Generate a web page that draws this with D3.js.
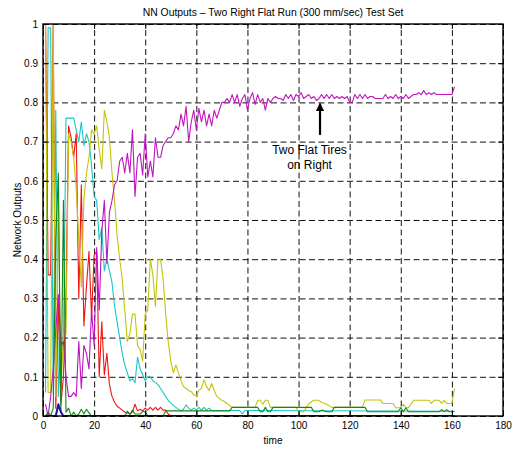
<!DOCTYPE html>
<html>
<head>
<meta charset="utf-8">
<script src="https://cdn.jsdelivr.net/npm/d3@7"></script>
<style>
  body { margin: 0; background: #fff; }
  text { font-family: "Liberation Sans", Arial, sans-serif; fill: #000; }
</style>
</head>
<body>
<svg id="drawing_region"></svg>
<script>
// axis ticks
const xTicks = [0, 20, 40, 60, 80, 100, 120, 140, 160, 180];
const yTicks = [0, 0.1, 0.2, 0.3, 0.4, 0.5, 0.6, 0.7, 0.8, 0.9, 1];

// magenta output, one value per time step (t = 1..161)
const magentaVals = [
    0.03, 0.0, 0.05, 0.12, 0.22, 0.31, 0.18, 0.19, 0.10, 0.05,
    0.05, 0.06, 0.05, 0.19, 0.07, 0.18, 0.16, 0.12, 0.27, 0.18,
    0.43, 0.27, 0.47, 0.55, 0.39, 0.52, 0.55, 0.59, 0.60, 0.65,
    0.66, 0.62, 0.67, 0.62, 0.73, 0.56, 0.66, 0.67, 0.615, 0.72,
    0.61, 0.65, 0.61, 0.71, 0.66, 0.66, 0.69, 0.70, 0.71, 0.71,
    0.72, 0.74, 0.73, 0.77, 0.74, 0.79, 0.70, 0.75, 0.78, 0.73,
    0.785, 0.75, 0.78, 0.74, 0.77, 0.74, 0.78, 0.76, 0.78, 0.80,
    0.80, 0.81, 0.80, 0.82, 0.80, 0.82, 0.79, 0.81, 0.82, 0.78,
    0.81, 0.825, 0.795, 0.82, 0.80, 0.81, 0.78, 0.81, 0.80, 0.81,
    0.815, 0.81, 0.81, 0.805, 0.82, 0.81, 0.82, 0.805, 0.82, 0.815,
    0.825, 0.81, 0.815, 0.82, 0.81, 0.815, 0.805, 0.81, 0.82, 0.81,
    0.82, 0.81, 0.82, 0.81, 0.815, 0.81, 0.815, 0.81, 0.815, 0.80,
    0.80, 0.82, 0.81, 0.82, 0.81, 0.82, 0.81, 0.815, 0.815, 0.81,
    0.81, 0.81, 0.81, 0.82, 0.81, 0.815, 0.81, 0.82, 0.81, 0.815,
    0.81, 0.82, 0.81, 0.815, 0.82, 0.82, 0.825, 0.82, 0.83, 0.82,
    0.825, 0.82, 0.825, 0.82, 0.82, 0.82, 0.82, 0.82, 0.82, 0.82,
    0.84
];

// the other outputs as [time, value] vertices
const cyanPts = [
    [1,0.06],[2,0.99],[3,0.99],[4,0.06],[5,0.78],[6,0.05],[7,0.19],[8,0.18],[9,0.76],[10,0.76],
    [11,0.76],[12,0.76],[13,0.73],[14,0.70],[15,0.75],[16,0.69],[17,0.72],[18,0.70],[19,0.64],[20,0.56],
    [21,0.55],[22,0.45],[23,0.48],[24,0.37],[25,0.40],[26,0.37],[27,0.34],[28,0.28],[29,0.24],[30,0.20],
    [31,0.16],[32,0.13],[33,0.11],[34,0.09],[35,0.095],[36,0.085],[37,0.15],[38,0.12],[39,0.105],[40,0.09],
    [41,0.10],[42,0.10],[43,0.09],[44,0.085],[45,0.08],[46,0.07],[47,0.06],[48,0.05],[49,0.04],[50,0.033],
    [51,0.027],[52,0.022],[53,0.017],[54,0.013],[55,0.018],[56,0.028],[57,0.02],[58,0.015],[59,0.02],[60,0.015],
    [61,0.022],[62,0.015],[63,0.022],[64,0.015],[65,0.02],[66,0.014],[77,0.014],[78,0.005],[79,0.014],[161,0.012]
];
const redPts = [
    [1,1.0],[2,0.36],[3,0.36],[4,1.0],[5,0.02],[6,0.3],[7,0.03],[8,0.1],[9,0.3],[10,0.74],
    [11,0.71],[12,0.66],[13,0.72],[14,0.30],[15,0.59],[16,0.23],[17,0.33],[18,0.42],[19,0.25],[20,0.41],
    [21,0.42],[22,0.10],[23,0.24],[24,0.105],[25,0.16],[26,0.08],[27,0.05],[28,0.035],[29,0.025],[30,0.02],
    [31,0.015],[32,0.01],[33,0.008],[34,0.005],[35,0.01],[36,0.03],[37,0.013],[38,0.017],[39,0.013],[40,0.02],
    [41,0.015],[42,0.022],[43,0.015],[44,0.022],[45,0.015],[46,0.022],[47,0.015],[48,0.015],[49,0.005],[50,0],
    [161,0]
];
const yellowPts = [
    [1,1.0],[2,0.06],[3,0.06],[4,1.0],[5,0.05],[6,0.55],[7,0.06],[8,0.21],[9,0.21],[10,0.72],
    [11,0.70],[12,0.66],[13,0.58],[14,0.45],[15,0.33],[16,0.55],[17,0.62],[18,0.66],[19,0.73],[20,0.72],
    [21,0.74],[22,0.68],[23,0.63],[24,0.78],[25,0.75],[26,0.71],[27,0.62],[28,0.55],[29,0.46],[30,0.40],
    [31,0.35],[32,0.27],[33,0.19],[34,0.21],[35,0.26],[36,0.26],[37,0.18],[38,0.17],[39,0.14],[40,0.26],
    [41,0.27],[42,0.40],[43,0.36],[44,0.28],[45,0.40],[46,0.40],[47,0.35],[48,0.26],[49,0.19],[50,0.14],
    [51,0.11],[52,0.13],[53,0.11],[54,0.09],[55,0.075],[56,0.07],[57,0.065],[58,0.062],[59,0.054],[60,0.05],
    [61,0.066],[62,0.07],[63,0.092],[64,0.075],[65,0.065],[66,0.083],[67,0.065],[68,0.05],[69,0.045],[70,0.04],
    [71,0.037],[72,0.032],[73,0.027],[74,0.022],[83,0.022],[84,0.04],[85,0.04],[86,0.03],[87,0.04],[88,0.04],
    [89,0.022],[99,0.022],[100,0.011],[102,0.011],[103,0.022],[104,0.032],[106,0.04],[108,0.04],[109,0.035],[111,0.03],
    [113,0.022],[125,0.022],[126,0.041],[132,0.041],[133,0.032],[137,0.032],[138,0.021],[140,0.021],[141,0.03],[142,0.021],
    [143,0.021],[145,0.04],[151,0.04],[152,0.032],[153,0.04],[155,0.04],[156,0.032],[157,0.04],[158,0.032],[160,0.032],
    [161,0.07]
];
const greenPts = [
    [1,0],[2,0.01],[3,0],[4,0.02],[5,0.45],[6,0.62],[7,0.01],[8,0.55],[9,0.01],[10,0.02],
    [11,0],[12,0.01],[13,0],[14,0.005],[15,0.017],[16,0.005],[17,0.017],[18,0.008],[19,0],[32,0],
    [33,0.012],[34,0.004],[35,0.015],[36,0.005],[38,0.005],[39,0.012],[40,0.01],[41,0],[47,0],[48,0.013],
    [73,0.013],[74,0.022],[84,0.022],[85,0.011],[86,0.011],[87,0.022],[88,0.011],[89,0.011],[90,0.022],[105,0.022],
    [106,0.011],[108,0.011],[109,0.015],[111,0.011],[113,0.011],[114,0.022],[126,0.022],[127,0.011],[139,0.011],[140,0.021],
    [141,0.011],[142,0.021],[143,0.011],[155,0.011],[156,0.016],[157,0.011],[158,0.016],[159,0.011],[161,0.011]
];
const bluePts = [[1,0],[5,0],[6,0.03],[7,0.01],[8,0],[161,0]];

const seriesColors = {
    cyan: '#1cc4c4', red: '#f01414', yellow: '#c4c40a',
    green: '#12861a', magenta: '#c014c0', blue: '#1a1aa0'
};

// annotation: arrow points at the magenta plateau
const noteLines = ['Two Flat Tires', 'on Right'];
const noteAt = [104.3, 0.668];
const arrowFrom = [108.4, 0.717];
const arrowTo = [108.4, 0.797];


class NNChart {

    constructor( config ) {
        this.config = {
            parent: config.parent,
            width: config.width || 513,
            height: config.height || 450,
            margin: config.margin || {top:24, right:10, bottom:34, left:43}
        };
        this.init();
    }

    init() {
        let self = this;

        self.svg = d3.select( self.config.parent )
            .attr('width', self.config.width)
            .attr('height', self.config.height);

        self.inner_width = self.config.width - self.config.margin.left - self.config.margin.right;
        self.inner_height = self.config.height - self.config.margin.top - self.config.margin.bottom;

        self.chart = self.svg.append('g')
            .attr('transform', `translate(${self.config.margin.left}, ${self.config.margin.top})`);

        self.xscale = d3.scaleLinear()
            .domain([0, 180])
            .range([0, self.inner_width]);

        self.yscale = d3.scaleLinear()
            .domain([0, 1])
            .range([self.inner_height, 0]);

        self.defs = self.svg.append('defs');
        self.defs.append('clipPath').attr('id', 'plot_clip')
            .append('rect')
            .attr('width', self.inner_width)
            .attr('height', self.inner_height);
        self.defs.append('marker')
            .attr('id', 'arrow_head')
            .attr('viewBox', '0 0 10 10')
            .attr('refX', 9).attr('refY', 5)
            .attr('markerWidth', 4).attr('markerHeight', 4)
            .attr('orient', 'auto')
            .append('path')
            .attr('d', 'M0,0 L10,5 L0,10 z')
            .attr('fill', '#000');
    }

    update() {
        let self = this;
        self.render();
    }

    render() {
        let self = this;
        const w = self.inner_width, h = self.inner_height;

        // dashed grid
        self.chart.append('g')
            .attr('class', 'grid')
            .attr('transform', `translate(0, ${h})`)
            .call( d3.axisBottom(self.xscale).tickValues(xTicks).tickSize(-h).tickFormat('') );
        self.chart.append('g')
            .attr('class', 'grid')
            .call( d3.axisLeft(self.yscale).tickValues(yTicks).tickSize(-w).tickFormat('') );
        self.chart.selectAll('.grid .domain').remove();
        self.chart.selectAll('.grid line')
            .attr('stroke', '#111')
            .attr('stroke-width', 1)
            .attr('stroke-dasharray', '6,3.5');

        // the network outputs
        const line = d3.line()
            .x( d => self.xscale(d[0]) )
            .y( d => self.yscale(d[1]) );

        const magentaPts = magentaVals.map( (v, i) => [i + 1, v] );
        const drawOrder = [
            ['cyan', cyanPts], ['red', redPts], ['yellow', yellowPts],
            ['magenta', magentaPts], ['green', greenPts], ['blue', bluePts]
        ];

        const plot = self.chart.append('g').attr('clip-path', 'url(#plot_clip)');
        plot.selectAll('path')
            .data(drawOrder)
            .join('path')
            .attr('d', d => line(d[1]))
            .attr('fill', 'none')
            .attr('stroke', d => seriesColors[d[0]])
            .attr('stroke-width', d => d[0] == 'blue' ? 2 : 1.1)
            .attr('stroke-linejoin', 'round');

        // box and inward ticks
        self.chart.append('rect')
            .attr('width', w).attr('height', h)
            .attr('fill', 'none')
            .attr('stroke', '#000')
            .attr('stroke-width', 1.4);

        const xaxis = self.chart.append('g')
            .attr('transform', `translate(0, ${h})`)
            .call( d3.axisBottom(self.xscale).tickValues(xTicks).tickSize(-5).tickPadding(6).tickFormat(d3.format('d')) );
        const yaxis = self.chart.append('g')
            .call( d3.axisLeft(self.yscale).tickValues(yTicks).tickSize(-5).tickPadding(5).tickFormat(d => d) );
        self.chart.append('g')
            .call( d3.axisTop(self.xscale).tickValues(xTicks).tickSize(-5).tickFormat('') );
        self.chart.append('g')
            .attr('transform', `translate(${w}, 0)`)
            .call( d3.axisRight(self.yscale).tickValues(yTicks).tickSize(-5).tickFormat('') );
        self.chart.selectAll('.domain').remove();
        self.chart.selectAll('.tick text')
            .attr('font-family', '"Liberation Sans", Arial, sans-serif')
            .attr('font-size', '10px')
            .attr('fill', '#000');

        // annotation
        self.chart.append('line')
            .attr('x1', self.xscale(arrowFrom[0])).attr('y1', self.yscale(arrowFrom[1]))
            .attr('x2', self.xscale(arrowTo[0])).attr('y2', self.yscale(arrowTo[1]))
            .attr('stroke', '#000')
            .attr('stroke-width', 2.2)
            .attr('marker-end', 'url(#arrow_head)');

        self.chart.append('text')
            .attr('text-anchor', 'middle')
            .attr('font-size', '12px')
            .selectAll('tspan')
            .data(noteLines)
            .join('tspan')
            .attr('x', self.xscale(noteAt[0]))
            .attr('y', (d, i) => self.yscale(noteAt[1]) + i * 15)
            .text(d => d);

        // labels
        self.svg.append('text')
            .attr('x', self.config.margin.left + w / 2)
            .attr('y', 16)
            .attr('text-anchor', 'middle')
            .attr('font-size', '10.4px')
            .text('NN Outputs \u2013 Two Right Flat Run (300 mm/sec) Test Set');

        self.svg.append('text')
            .attr('x', self.config.margin.left + w / 2)
            .attr('y', 444)
            .attr('text-anchor', 'middle')
            .attr('font-size', '10px')
            .text('time');

        self.svg.append('text')
            .attr('transform', `translate(21, ${self.config.margin.top + h / 2}) rotate(-90)`)
            .attr('text-anchor', 'middle')
            .attr('font-size', '10px')
            .text('Network Outputs');
    }
}

const chart = new NNChart({ parent: '#drawing_region', width: 513, height: 450 });
chart.update();
</script>
</body>
</html>
